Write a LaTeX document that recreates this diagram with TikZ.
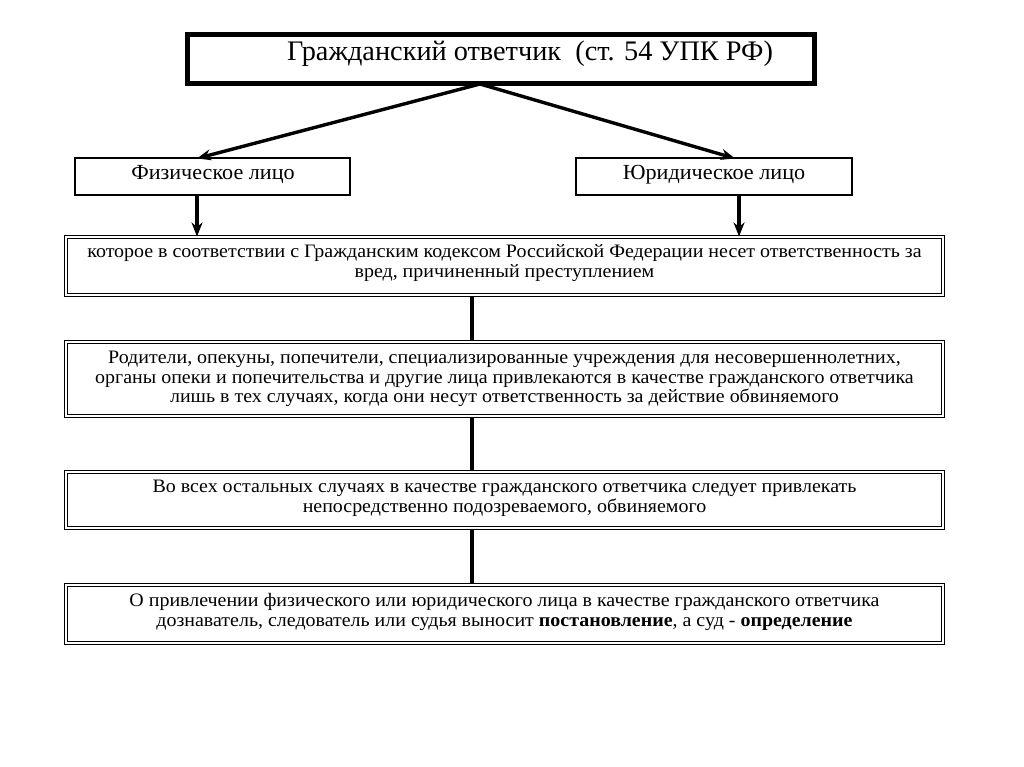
\documentclass[tikz,border=0pt]{standalone}
\usepackage{graphicx}
\usepackage{fontspec}
\setmainfont{Liberation Serif}
\usetikzlibrary{arrows.meta}
\newcommand{\boxlines}[2]{\scalebox{#1}[1]{\begin{tabular}{@{}c@{}}#2\end{tabular}}}
\begin{document}
\begin{tikzpicture}[x=1pt,y=-1pt,
  dbox/.style={draw=black, line width=1.1pt, double=white, double distance=1.6pt, inner sep=0pt},
  sbox/.style={draw=black, line width=1.1pt, inner sep=0pt},
  btext/.style={align=center, inner sep=0pt, font=\fontsize{19}{19.5}\selectfont},
  htext/.style={align=center, inner sep=0pt, font=\fontsize{21.5}{22}\selectfont},
  arr/.style={line width=3.4pt, -{Stealth[length=14pt,width=11pt]}},
  link/.style={line width=3.4pt}]
\fill[white] (0,0) rectangle (1024,767);
\useasboundingbox (0,0) rectangle (1024,767);
% top box
\node[draw=black, line width=4.5pt, minimum width=628pt, minimum height=50pt, inner sep=0pt] (top) at (501,59) {};
\draw[line width=1.4pt] ([shift={(4.5,4.5)}]top.north west) rectangle ([shift={(-4.5,-4.5)}]top.south east);
\node[anchor=west, inner sep=0pt, font=\fontsize{28.3}{30}\selectfont] (toptext) at (287,54) {Гражданский ответчик\ \ (ст. 54 УПК РФ)};
% second level
\node[sbox, minimum width=275pt, minimum height=37pt] (fiz) at (212.5,176.5) {};
\node[htext] (fiztext) at (213,175) {\boxlines{1.03}{Физическое лицо}};
\node[sbox, minimum width=276pt, minimum height=37pt] (yur) at (714,176.5) {};
\node[htext] (yurtext) at (714,175) {\boxlines{1.03}{Юридическое лицо}};
% lower boxes
\node[dbox, minimum width=877pt, minimum height=58pt] (b1) at (504.5,266) {};
\node[btext] (b1t) at (504.5,263.5) {\boxlines{1.05}{которое в соответствии с Гражданским кодексом Российской Федерации несет ответственность за\\вред, причиненный преступлением}};
\node[dbox, minimum width=877pt, minimum height=74pt] (b2) at (504.5,379) {};
\node[btext] (b2t) at (504.5,379.5) {\boxlines{1.05}{Родители, опекуны, попечители, специализированные учреждения для несовершеннолетних,\\органы опеки и попечительства и другие лица привлекаются в качестве гражданского ответчика\\лишь в тех случаях, когда они несут ответственность за действие обвиняемого}};
\node[dbox, minimum width=877pt, minimum height=56pt] (b3) at (504.5,500) {};
\node[btext] (b3t) at (504.5,498.5) {\boxlines{1.05}{Во всех остальных случаях в качестве гражданского ответчика следует привлекать\\непосредственно подозреваемого, обвиняемого}};
\node[dbox, minimum width=877pt, minimum height=58pt] (b4) at (504.5,614) {};
\node[btext] (b4t) at (504.5,612.5) {\boxlines{1.05}{О привлечении физического или юридического лица в качестве гражданского ответчика\\дознаватель, следователь или судья выносит \textbf{постановление}, а суд - \textbf{определение}}};
% connectors
\coordinate (apex) at (480,84);
\draw[arr] (apex) -- ([xshift=-15.5pt,yshift=-1pt]fiz.north);
\draw[arr] (apex) -- ([xshift=21pt,yshift=-1pt]yur.north);
\draw[arr] ([xshift=-15.5pt]fiz.south) -- ([xshift=-15.5pt]fiz.south |- b1.north);
\draw[arr] ([xshift=25pt]yur.south) -- ([xshift=25pt]yur.south |- b1.north);
\draw[link] (b1.south -| 472,0) -- (b2.north -| 472,0);
\draw[link] (b2.south -| 472,0) -- (b3.north -| 472,0);
\draw[link] (b3.south -| 472,0) -- (b4.north -| 472,0);
\end{tikzpicture}
\end{document}
